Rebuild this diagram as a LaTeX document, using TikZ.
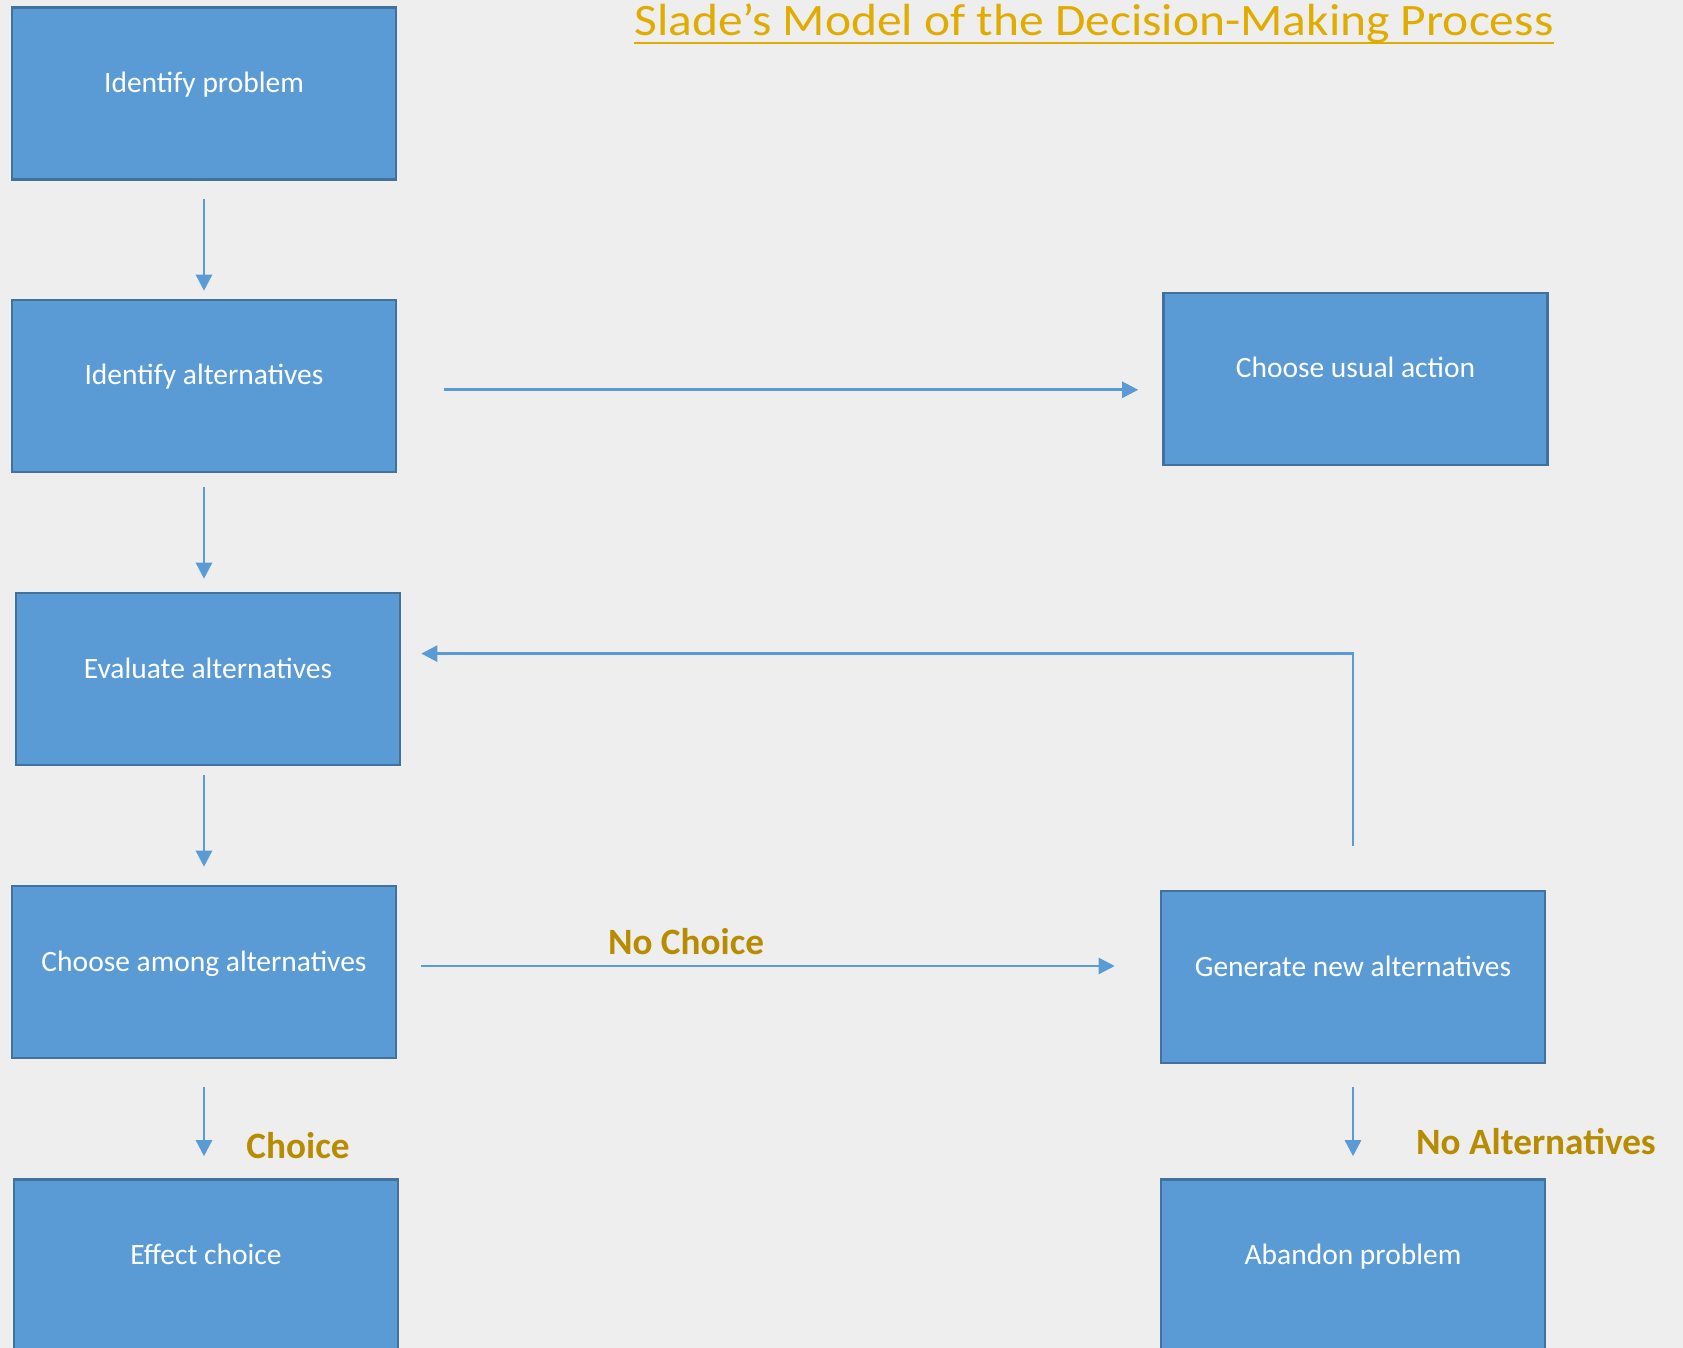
\documentclass[tikz,border=0pt]{standalone}
\usepackage{fontspec}
\setmainfont{Carlito}
\usetikzlibrary{arrows.meta}

\definecolor{pagebg}{RGB}{238,238,238}
\definecolor{boxfill}{RGB}{91,155,213}
\definecolor{boxline}{RGB}{65,113,156}
\definecolor{titlegold}{RGB}{225,172,0}
\definecolor{labelgold}{RGB}{184,140,0}

\tikzset{
    stepbox/.style={draw=boxline, line width=1.3pt, fill=boxfill, text=white,
        minimum width=192pt, minimum height=86pt, inner sep=0pt,
        text height=8pt, text depth=9pt, font=\fontsize{14.75}{17}\selectfont},
    flow/.style={draw=boxfill, line width=1.3pt, -{Triangle[length=8pt,width=8pt]}},
    branch/.style={text=labelgold, font=\fontsize{18.6}{21}\selectfont\bfseries}
}

\begin{document}
\begin{tikzpicture}[x=0.5pt, y=-0.5pt]

    % Page
    \fill[pagebg] (0,0) rectangle (1683,1348);
    \useasboundingbox (0,0) rectangle (1683,1348);

    % Title
    \node[text=titlegold, font=\fontsize{22.5}{26}\selectfont, inner sep=0pt, anchor=base] (title) at (1094,36)
        {\scalebox{1.1}[1]{Slade’s Model of the Decision-Making Process}};
    \draw[titlegold, line width=1.35pt] ([yshift=-3.5pt]title.base west) -- ([yshift=-3.5pt]title.base east);

    % Main steps
    \node[stepbox] (ident)  at (204,93.5)  {Identify problem};
    \node[stepbox] (alts)   at (204,386)   {Identify alternatives};
    \node[stepbox] (eval)   at (208,679)   {Evaluate alternatives};
    \node[stepbox] (choose) at (204,972)   {Choose among alternatives};
    \node[stepbox] (effect) at (206,1265.5) {Effect choice};

    % Side steps
    \node[stepbox] (usual)    at (1355.5,379)  {Choose usual action};
    \node[stepbox] (generate) at (1353,977)    {Generate new alternatives};
    \node[stepbox] (abandon)  at (1353,1265.5) {Abandon problem};

    % Arrows down the left column
    \draw[flow, shorten <=9pt, shorten >=4pt] (ident.south) -- (alts.north);
    \draw[flow, shorten <=7pt, shorten >=6.5pt] (alts.south) -- (alts.south |- eval.north);
    \draw[flow, shorten <=4.5pt, shorten >=9pt] (eval.south -| ident.south) -- (choose.north);
    \draw[flow, shorten <=14pt, shorten >=11pt] (choose.south) -- (choose.south |- effect.north);

    % Arrows to the right
    \draw[flow, shorten <=23.5pt, shorten >=12pt] ([yshift=-1.9pt]alts.east) -- ([yshift=-1.9pt]alts.east -| usual.west);
    \draw[flow, shorten <=12pt, shorten >=22.5pt] ([yshift=3pt]choose.east) -- ([yshift=3pt]choose.east -| generate.west);
    \draw[flow, shorten <=11.5pt, shorten >=11pt] (generate.south) -- (abandon.north);

    % Loop back
    \draw[flow, shorten <=22pt, shorten >=10pt] (generate.north) |- ([yshift=12.7pt]eval.east);

    % Labels
    \node[branch] (nochoice) at (686,942)  {No Choice};
    \node[branch] (choice)   at (298,1146) {Choice};
    \node[branch] (noalt)    at (1536,1142) {No Alternatives};

\end{tikzpicture}
\end{document}
